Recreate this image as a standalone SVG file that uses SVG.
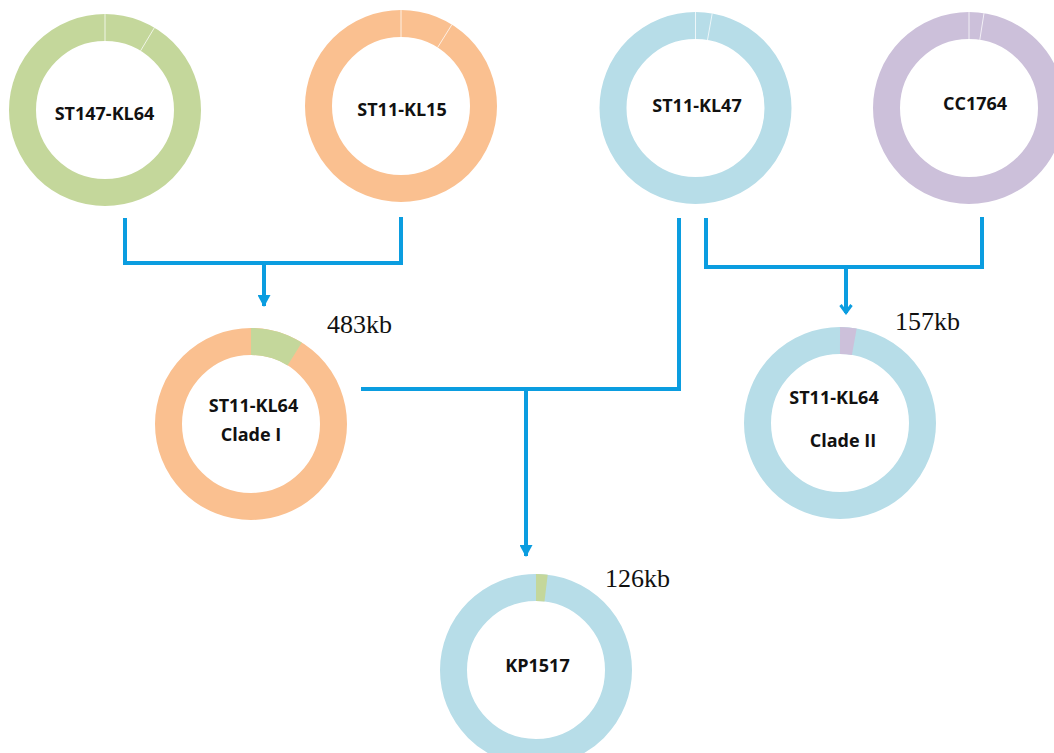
<svg xmlns="http://www.w3.org/2000/svg" width="1054" height="753" viewBox="0 0 1054 753">
<defs>
<style>
.ring{fill:none;stroke-width:27}
.g{stroke:#c4d79b}.o{stroke:#fac090}.b{stroke:#b7dde8}.p{stroke:#ccc0da}
.div{stroke:#ffffff;stroke-width:1;opacity:0.75}
.lbl{font-family:"Open Sans","Noto Sans","Liberation Sans",sans-serif;font-weight:bold;font-size:18px;fill:#111;text-anchor:middle}
.kb{font-family:"Liberation Serif","Times New Roman",serif;font-size:26px;fill:#111}
.con{fill:none;stroke:#0b9de0;stroke-width:4}
</style>
<marker id="tri" markerUnits="userSpaceOnUse" viewBox="0 0 13 12" refX="6.5" refY="11" markerWidth="13" markerHeight="12" orient="0">
<path d="M0,0 L13,0 L6.5,12 Z" fill="#0b9de0"/>
</marker>
<marker id="chev" markerUnits="userSpaceOnUse" viewBox="0 0 14 12" refX="7" refY="10" markerWidth="14" markerHeight="12" orient="0">
<path d="M1.5,2 L7,9.5 L12.5,2" fill="none" stroke="#0b9de0" stroke-width="3"/>
</marker>
</defs>
<rect width="1054" height="753" fill="#ffffff"/>

<g id="connectors">
<path class="con" d="M125,218 V263 H401 V217"/>
<path class="con" d="M264,263 V306" marker-end="url(#tri)"/>
<path class="con" d="M361,389 H679 V218"/>
<path class="con" d="M526,389 V556" marker-end="url(#tri)"/>
<path class="con" d="M706,218 V267 H982 V217"/>
<path class="con" d="M846,267 V313" marker-end="url(#chev)"/>
</g>

<g id="st147-kl64">
<circle class="ring g" cx="105" cy="110" r="82.5"/>
<line class="div" x1="105" y1="14" x2="105" y2="41"/>
<line class="div" x1="154.4" y1="27.7" x2="140.5" y2="50.9"/>
<text class="lbl" x="104.5" y="120">ST147-KL64</text>
</g>

<g id="st11-kl15">
<circle class="ring o" cx="401" cy="106" r="82.5"/>
<line class="div" x1="401" y1="10" x2="401" y2="37"/>
<line class="div" x1="451.9" y1="24.6" x2="437.6" y2="47.5"/>
<text class="lbl" x="402" y="116">ST11-KL15</text>
</g>

<g id="st11-kl47">
<circle class="ring b" cx="695.5" cy="108" r="82.5"/>
<line class="div" x1="695.5" y1="12" x2="695.5" y2="39"/>
<line class="div" x1="712.2" y1="13.5" x2="707.5" y2="40"/>
<text class="lbl" x="697" y="112">ST11-KL47</text>
</g>

<g id="cc1764">
<circle class="ring p" cx="969" cy="108" r="82.5"/>
<line class="div" x1="969" y1="12" x2="969" y2="39"/>
<line class="div" x1="984" y1="13.2" x2="979.8" y2="39.9"/>
<text class="lbl" x="975" y="110">CC1764</text>
</g>

<g id="st11-kl64-clade-i">
<circle class="ring o" cx="251" cy="424" r="82.5"/>
<path class="ring g" d="M251,341.5 A82.5,82.5 0 0 1 294.7,354.0"/>
<text class="lbl" x="253.5" y="412">ST11-KL64</text>
<text class="lbl" x="251" y="441">Clade I</text>
<text class="kb" x="327" y="333">483kb</text>
</g>

<g id="st11-kl64-clade-ii">
<circle class="ring b" cx="840" cy="423" r="82.5"/>
<path class="ring p" d="M840,340.5 A82.5,82.5 0 0 1 854.3,341.8"/>
<text class="lbl" x="834" y="404">ST11-KL64</text>
<text class="lbl" x="843" y="447">Clade II</text>
<text class="kb" x="895" y="330">157kb</text>
</g>

<g id="kp1517">
<circle class="ring b" cx="536" cy="670" r="82.5"/>
<path class="ring g" d="M536,587.5 A82.5,82.5 0 0 1 546.1,588.1"/>
<text class="lbl" x="537.5" y="672">KP1517</text>
<text class="kb" x="605" y="587">126kb</text>
</g>
</svg>
